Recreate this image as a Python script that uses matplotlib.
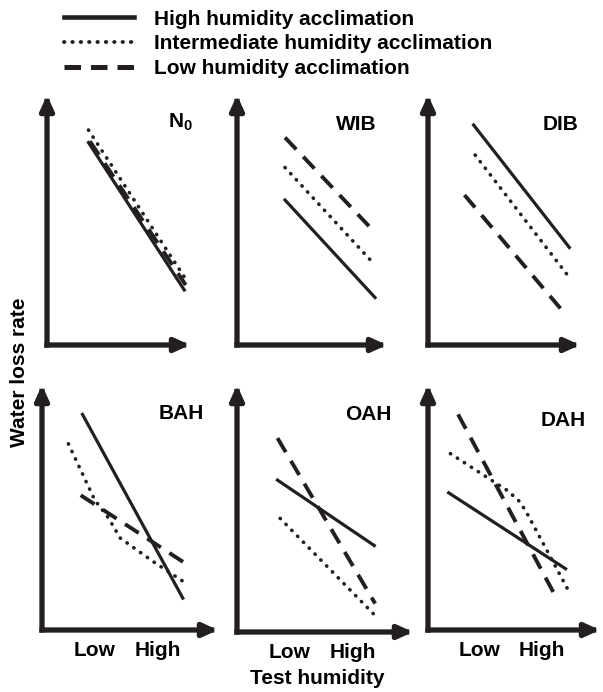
import matplotlib.pyplot as plt
from matplotlib.lines import Line2D

plt.rcParams['font.family'] = ['Liberation Sans', 'DejaVu Sans']
plt.rcParams['font.weight'] = 'bold'
plt.rcParams['mathtext.fontset'] = 'custom'
plt.rcParams['mathtext.rm'] = 'Liberation Sans:bold'
plt.rcParams['mathtext.bf'] = 'Liberation Sans:bold'

INK = '#231f20'
W, H = 603, 692
FS = 15

series_names = ['High humidity acclimation',
                'Intermediate humidity acclimation',
                'Low humidity acclimation']
panel_names = [r'$\mathbf{N_0}$', 'WIB', 'DIB', 'BAH', 'OAH', 'DAH']
tick_labels = ['Low', 'High']
tick_pos = [3.0, 6.6]

# (test humidity, water loss rate) for each acclimation group, arbitrary 0-10 units
n0_high = ([2.9, 9.6], [8.1, 2.2])
n0_inter = ([2.9, 9.8], [8.6, 2.55])
n0_low = ([3.0, 9.7], [8.15, 2.4])

wib_high = ([3.2, 9.2], [5.8, 1.9])
wib_inter = ([3.2, 9.2], [7.1, 3.2])
wib_low = ([3.2, 9.2], [8.3, 4.5])

dib_high = ([3.0, 9.3], [8.8, 3.9])
dib_inter = ([3.1, 9.3], [7.6, 2.7])
dib_low = ([2.4, 8.8], [6.0, 1.4])

bah_high = ([2.3, 8.0], [8.8, 1.3])
bah_inter = ([1.5, 3.0, 3.75, 4.45, 6.3, 8.3], [7.6, 5.3, 4.6, 3.75, 2.8, 1.85])
bah_low = ([2.2, 8.4], [5.5, 2.6])

oah_high = ([2.3, 7.8], [6.15, 3.5])
oah_inter = ([2.45, 7.8], [4.6, 0.7])
oah_low = ([2.3, 7.85], [7.85, 1.15])

dah_high = ([1.2, 8.0], [5.6, 2.5])
dah_inter = ([1.3, 3.5, 4.6, 5.25, 5.65, 8.25], [7.2, 6.2, 5.7, 5.3, 4.9, 1.5])
dah_low = ([1.75, 7.55], [8.8, 1.2])

panels = [(n0_high, n0_inter, n0_low), (wib_high, wib_inter, wib_low),
          (dib_high, dib_inter, dib_low), (bah_high, bah_inter, bah_low),
          (oah_high, oah_inter, oah_low), (dah_high, dah_inter, dah_low)]

line_styles = [
    dict(linestyle='-', linewidth=2.3),
    dict(linestyle=(0, (0.1, 2.2)), linewidth=2.6, dash_capstyle='round'),
    dict(linestyle=(0, (4.2, 2.6)), linewidth=2.8),
]
legend_styles = [
    dict(linestyle='-', linewidth=3.3),
    dict(linestyle=(0, (0.1, 2.05)), linewidth=2.8, dash_capstyle='round'),
    dict(linestyle=(0, (3.3, 2.0)), linewidth=3.6),
]

# panel boxes in pixels: left, right, bottom, top
boxes = [(47, 190, 345, 95), (237, 387, 345, 95), (428, 580, 345, 95),
         (42, 218, 630, 385), (237, 413, 632, 385), (428, 600, 630, 385)]
# panel label anchor (right edge, vertical centre) in pixels
label_xy = [(193, 122), (377, 125), (578, 125), (204, 413), (391, 415), (586, 420)]


def draw_axes_arrows(ax):
    kw = dict(arrowstyle='-|>,head_length=0.55,head_width=0.25', lw=3.8,
              color=INK, shrinkA=0, shrinkB=0, mutation_scale=16,
              capstyle='projecting')
    ax.annotate('', xy=(1, 0), xytext=(0, 0), xycoords='axes fraction', arrowprops=kw)
    ax.annotate('', xy=(0, 1), xytext=(0, 0), xycoords='axes fraction', arrowprops=kw)


fig = plt.figure(figsize=(W / 100, H / 100), dpi=100)

for i, (series, box) in enumerate(zip(panels, boxes)):
    left, right, bottom, top = box
    ax = fig.add_axes([left / W, 1 - bottom / H, (right - left) / W, (bottom - top) / H])
    ax.set_xlim(0, 10)
    ax.set_ylim(0, 10)
    for (xs, ys), st in zip(series, line_styles):
        ax.plot(xs, ys, color=INK, **st)
    for sp in ax.spines.values():
        sp.set_visible(False)
    ax.patch.set_alpha(0)
    draw_axes_arrows(ax)
    ax.set_yticks([])
    if i >= 3:
        ax.set_xticks(tick_pos)
        ax.set_xticklabels(tick_labels, fontsize=FS, fontweight='bold')
        ax.tick_params(axis='x', length=0, pad=8)
    else:
        ax.set_xticks([])
    lx, ly = label_xy[i]
    fig.text(lx / W, 1 - ly / H, panel_names[i], ha='right', va='center',
             fontsize=FS, fontweight='bold')

handles = [Line2D([], [], color=INK, **st) for st in legend_styles]
fig.legend(handles, series_names, loc='upper left', bbox_to_anchor=(0.106, 0.986),
           frameon=False, fontsize=FS, handlelength=3.35, handletextpad=0.95,
           labelspacing=0.27, borderpad=0, borderaxespad=0)

fig.text(317 / W, 1 - 678 / H, 'Test humidity', ha='center', va='center',
         fontsize=FS, fontweight='bold')
fig.text(20 / W, 1 - 372 / H, 'Water loss rate', ha='center', va='center',
         rotation=90, fontsize=FS, fontweight='bold')

fig.savefig('out.png', dpi=100)
